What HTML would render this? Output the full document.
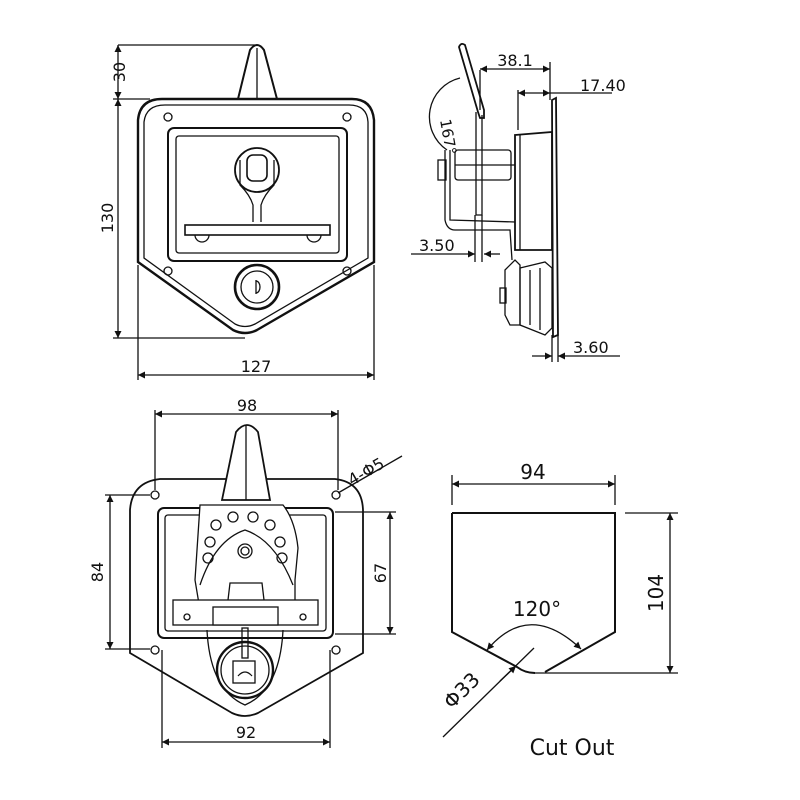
<!DOCTYPE html>
<html><head><meta charset="utf-8"><style>
html,body{margin:0;padding:0;background:#fff;}
svg{display:block;}
text{font-family:"DejaVu Sans","Liberation Sans",sans-serif;fill:#111;}
</style></head><body>
<svg width="800" height="800" viewBox="0 0 800 800" xmlns="http://www.w3.org/2000/svg">
<defs>
<marker id="a" viewBox="0 0 10 10" refX="10" refY="5" markerWidth="9" markerHeight="7" orient="auto-start-reverse" markerUnits="userSpaceOnUse"><path d="M0,0 L10,5 L0,10z" fill="#111"/></marker>
</defs>
<g fill="none" stroke="#111" stroke-width="1.3">
<!-- TOP LEFT VIEW -->
<path d="M238,99 L250,50 Q257,40 264,50 L277,99" stroke-width="2"/>
<line x1="257" y1="48" x2="257" y2="99"/>
<path d="M162,99 L352,99 Q372,99 374,120 L374,262 L257,330 Q245,336 233,330 L138,262 L138,120 Q140,99 162,99 Z" stroke-width="2.4"/>
<path d="M165,105 L349,105 Q367,105 368,122 L368,258 L255,324 Q245,329 235,324 L144,258 L144,122 Q146,105 165,105 Z"/>
<circle cx="168" cy="117" r="4"/><circle cx="347" cy="117" r="4"/>
<circle cx="168" cy="271" r="4"/><circle cx="347" cy="271" r="4"/>
<rect x="168" y="128" width="179" height="133" rx="6" stroke-width="2"/>
<rect x="176" y="136" width="163" height="117" rx="3"/>
<circle cx="257" cy="170" r="22" stroke-width="1.8"/>
<rect x="247" y="155" width="20" height="26" rx="6" stroke-width="1.6"/>
<path d="M240,160 L240,185 Q250,195 253,205 L253,222 M274,160 L274,185 Q264,195 261,205 L261,222"/>
<rect x="185" y="225" width="145" height="10" stroke-width="1.6"/>
<path d="M195,235 a7,7 0 0 0 14,0 M307,235 a7,7 0 0 0 14,0"/>
<circle cx="257" cy="287" r="22" stroke-width="2.6"/>
<circle cx="257" cy="287" r="16"/>
<path d="M256,280 L256,294 M256,281 a4,6 0 0 1 0,12"/>
<!-- dims top-left -->
<line x1="118" y1="45" x2="255" y2="45"/>
<line x1="113" y1="99" x2="150" y2="99"/>
<line x1="113" y1="338" x2="245" y2="338"/>
<line x1="118" y1="45" x2="118" y2="99" marker-start="url(#a)" marker-end="url(#a)"/>
<line x1="118" y1="99" x2="118" y2="338" marker-start="url(#a)" marker-end="url(#a)"/>
<line x1="138" y1="265" x2="138" y2="380"/>
<line x1="374" y1="265" x2="374" y2="380"/>
<line x1="138" y1="375" x2="374" y2="375" marker-start="url(#a)" marker-end="url(#a)"/>

<!-- SIDE VIEW -->
<path d="M459,47 Q461,42 465,45 L484,110 L484,118 L480,118 L478,112 Z" stroke-width="1.8"/>
<path d="M476,112 L476,215 L482,215 L482,115"/>
<path d="M552,100 L556,98 L558,335 L553,337 Z" stroke-width="1.8"/>
<path d="M515,135 L552,132 L552,250 L515,250 Z" stroke-width="1.8"/>
<path d="M520,135 L520,250"/>
<path d="M445,150 L445,220 Q447,230 455,230 L510,230 L512,260 M450,150 L450,220 L515,222"/>
<rect x="438" y="160" width="8" height="20"/>
<rect x="455" y="150" width="56" height="30" rx="3"/>
<line x1="455" y1="165" x2="515" y2="165"/>
<path d="M505,270 L515,260 L520,265 L520,325 L510,325 L505,315 Z"/>
<rect x="500" y="288" width="6" height="15"/>
<path d="M520,268 L545,262 L552,268 L552,328 L545,335 L520,325 Z"/>
<line x1="530" y1="270" x2="530" y2="325"/><line x1="540" y1="268" x2="540" y2="330"/>
<path d="M447,150 A40,40 0 0 1 460,78" />
<!-- side dims -->
<line x1="480" y1="70" x2="480" y2="110"/>
<line x1="550" y1="62" x2="550" y2="100"/>
<line x1="480" y1="69" x2="550" y2="69" marker-start="url(#a)" marker-end="url(#a)"/>
<line x1="518" y1="90" x2="518" y2="130"/>
<line x1="518" y1="93" x2="550" y2="93" marker-start="url(#a)" marker-end="url(#a)"/>
<line x1="550" y1="93" x2="612" y2="93"/>
<line x1="411" y1="254" x2="475" y2="254" marker-end="url(#a)"/>
<line x1="500" y1="254" x2="484" y2="254" marker-end="url(#a)"/>
<line x1="475" y1="215" x2="475" y2="262"/><line x1="482" y1="215" x2="482" y2="262"/>
<line x1="532" y1="356" x2="552" y2="356" marker-end="url(#a)"/>
<line x1="620" y1="356" x2="558" y2="356" marker-end="url(#a)"/>
<line x1="552" y1="335" x2="552" y2="362"/><line x1="558" y1="335" x2="558" y2="362"/>

<!-- BOTTOM-LEFT VIEW -->
<path d="M160,479 L335,479 Q362,482 363,510 L363,653 L258,713 Q245,719 232,713 L130,653 L130,510 Q132,482 160,479 Z" stroke-width="1.8"/>
<circle cx="155" cy="495" r="4"/><circle cx="336" cy="495" r="4"/>
<circle cx="155" cy="650" r="4"/><circle cx="336" cy="650" r="4"/>
<rect x="158" y="508" width="175" height="130" rx="6" stroke-width="2"/>
<rect x="165" y="515" width="161" height="116" rx="3"/>
<path d="M222,500 L236,432 Q247,418 258,432 L270,500 Z" fill="#fff" stroke-width="1.8"/>
<line x1="246" y1="425" x2="246" y2="500"/>
<path d="M200,505 L283,505 Q295,520 298,548 L295,580 L295,610 L200,610 L195,580 Z" fill="#fff"/>
<path d="M200,585 Q215,540 245,530 Q275,540 293,585"/>
<g>
<circle cx="233" cy="517" r="5"/><circle cx="253" cy="517" r="5"/>
<circle cx="216" cy="525" r="5"/><circle cx="270" cy="525" r="5"/>
<circle cx="210" cy="542" r="5"/><circle cx="280" cy="542" r="5"/>
<circle cx="208" cy="558" r="5"/><circle cx="282" cy="558" r="5"/>
<circle cx="245" cy="551" r="7"/><circle cx="245" cy="551" r="4"/>
</g>
<rect x="173" y="600" width="145" height="25" fill="#fff"/>
<rect x="213" y="607" width="65" height="18" fill="#fff"/>
<path d="M228,600 L230,583 L262,583 L264,600"/>
<circle cx="187" cy="617" r="3"/><circle cx="303" cy="617" r="3"/>
<path d="M207,630 Q210,690 245,705 Q280,690 283,630"/>
<circle cx="245" cy="670" r="28" stroke-width="2.4"/>
<circle cx="245" cy="670" r="24"/>
<rect x="233" y="661" width="22" height="22"/>
<rect x="242" y="628" width="6" height="30"/>
<path d="M238,676 q7,-8 14,0"/>
<!-- dims -->
<line x1="155" y1="410" x2="155" y2="490"/><line x1="338" y1="410" x2="338" y2="490"/>
<line x1="155" y1="414" x2="338" y2="414" marker-start="url(#a)" marker-end="url(#a)"/>
<line x1="105" y1="495" x2="150" y2="495"/><line x1="105" y1="649" x2="150" y2="649"/>
<line x1="110" y1="495" x2="110" y2="649" marker-start="url(#a)" marker-end="url(#a)"/>
<line x1="335" y1="512" x2="396" y2="512"/><line x1="335" y1="634" x2="396" y2="634"/>
<line x1="390" y1="512" x2="390" y2="634" marker-start="url(#a)" marker-end="url(#a)"/>
<line x1="162" y1="650" x2="162" y2="748"/><line x1="330" y1="650" x2="330" y2="748"/>
<line x1="162" y1="742" x2="330" y2="742" marker-start="url(#a)" marker-end="url(#a)"/>
<line x1="338" y1="493" x2="402" y2="456"/>

<!-- CUT OUT -->
<path d="M452,513 L615,513 L615,632 L545,672 M452,513 L452,632 L517,667 Q525,673 535,673" stroke-width="2"/>
<line x1="535" y1="673" x2="678" y2="673"/>
<line x1="452" y1="475" x2="452" y2="505"/><line x1="615" y1="475" x2="615" y2="505"/>
<line x1="452" y1="484" x2="615" y2="484" marker-start="url(#a)" marker-end="url(#a)"/>
<line x1="625" y1="513" x2="678" y2="513"/>
<line x1="670" y1="513" x2="670" y2="673" marker-start="url(#a)" marker-end="url(#a)"/>
<path d="M487,650 Q529,600 581,649" marker-start="url(#a)" marker-end="url(#a)"/>
<line x1="443" y1="737" x2="534" y2="648"/>
<line x1="500" y1="681" x2="516" y2="666" marker-end="url(#a)"/>
</g>
<g font-size="16">
<text x="125" y="72" transform="rotate(-90 125 72)" text-anchor="middle">30</text>
<text x="113" y="218" transform="rotate(-90 113 218)" text-anchor="middle">130</text>
<text x="256" y="372" text-anchor="middle">127</text>
<text x="515" y="66" text-anchor="middle">38.1</text>
<text x="580" y="91">17.40</text>
<text x="419" y="251">3.50</text>
<text x="573" y="353">3.60</text>
<text x="440" y="120" transform="rotate(80 440 120)" font-size="15">167°</text>
<text x="247" y="411" text-anchor="middle">98</text>
<text x="103" y="572" transform="rotate(-90 103 572)" text-anchor="middle">84</text>
<text x="386" y="573" transform="rotate(-90 386 573)" text-anchor="middle">67</text>
<text x="246" y="738" text-anchor="middle">92</text>
<text x="352" y="486" transform="rotate(-30 352 486)">4-Φ5</text>
</g>
<g font-size="20">
<text x="533" y="479" text-anchor="middle">94</text>
<text x="663" y="593" transform="rotate(-90 663 593)" text-anchor="middle">104</text>
<text x="537" y="616" text-anchor="middle">120°</text>
<text x="452" y="710" transform="rotate(-45 452 710)">Φ33</text>
<text x="572" y="755" text-anchor="middle" font-size="22">Cut Out</text>
</g>
</svg>
</body></html>
